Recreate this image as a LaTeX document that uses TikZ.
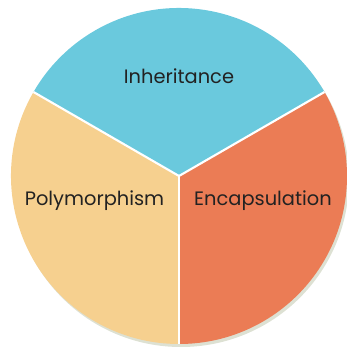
\documentclass[tikz,border=0pt]{standalone}
\usepackage{fontspec}
\setmainfont{Poppins}
\definecolor{inhcol}{HTML}{6AC9DD}
\definecolor{enccol}{HTML}{EB7C55}
\definecolor{polcol}{HTML}{F6D08F}
\definecolor{shadecol}{HTML}{D5D9C8}
\definecolor{txtcol}{HTML}{222222}
\tikzset{
  sector/.style={line width=0pt},
  divider/.style={white,line width=1.5pt},
  pietext/.style={anchor=base,text=txtcol,font=\fontsize{13.8}{16}\selectfont,inner sep=0pt}
}
\begin{document}
\begin{tikzpicture}[x=0.025cm,y=0.025cm]
\useasboundingbox (-179,-173) rectangle (168,176);
\fill[shadecol,opacity=0.8] (2,-3) circle (168);
\coordinate (c) at (0,0);
\fill[inhcol] (c) -- (30:168) arc (30:150:168) -- cycle;
\fill[polcol] (c) -- (150:168) arc (150:270:168) -- cycle;
\fill[enccol] (c) -- (270:168) arc (270:390:168) -- cycle;
\coordinate (a) at (30:168);
\coordinate (b) at (150:168);
\coordinate (d) at (270:168);
\draw[divider] (c) -- (a);
\draw[divider] (c) -- (b);
\draw[divider] (c) -- (d);
\node[pietext] (inh) at (0,92) {Inheritance};
\node[pietext] (pol) at (-84.5,-29) {Polymorphism};
\node[pietext] (enc) at (84,-29) {Encapsulation};
\end{tikzpicture}
\end{document}
